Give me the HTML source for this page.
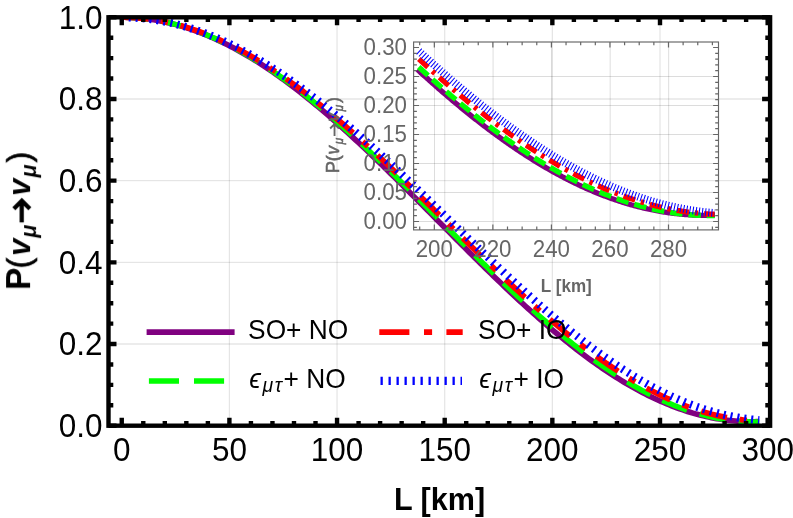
<!DOCTYPE html>
<html><head><meta charset="utf-8"><title>plot</title>
<style>html,body{margin:0;padding:0;background:#fff}svg{display:block}text{font-family:"Liberation Sans",sans-serif}</style></head><body>
<svg width="793" height="518" viewBox="0 0 793 518">
<rect width="793" height="518" fill="#fff"/>
<g opacity="0.9999">
<path d="M229.40 17.3V425.7M337.05 17.3V425.7M444.70 17.3V425.7M552.35 17.3V425.7M660.00 17.3V425.7" stroke="#000" stroke-opacity="0.105" stroke-width="1.3" fill="none"/>
<path d="M108.5 344.02H770.1M108.5 262.34H770.1M108.5 180.66H770.1M108.5 98.98H770.1" stroke="#000" stroke-opacity="0.105" stroke-width="1.3" fill="none"/>
<clipPath id="mc"><rect x="108.5" y="17.3" width="661.6" height="408.4"/></clipPath>
<g clip-path="url(#mc)" fill="none">
<path d="M121.75 17.30L124.41 17.32L127.06 17.37L129.72 17.46L132.38 17.58L135.03 17.74L137.69 17.94L140.34 18.17L143.00 18.43L145.66 18.74L148.31 19.07L150.97 19.44L153.63 19.85L156.28 20.29L158.94 20.77L161.59 21.28L164.25 21.83L166.91 22.41L169.56 23.02L172.22 23.67L174.88 24.36L177.53 25.08L180.19 25.83L182.84 26.62L185.50 27.44L188.16 28.29L190.81 29.18L193.47 30.10L196.13 31.06L198.78 32.04L201.44 33.06L204.09 34.12L206.75 35.20L209.41 36.32L212.06 37.47L214.72 38.65L217.38 39.87L220.03 41.11L222.69 42.39L225.34 43.70L228.00 45.04L230.66 46.41L233.31 47.81L235.97 49.24L238.63 50.70L241.28 52.19L243.94 53.71L246.59 55.25L249.25 56.83L251.91 58.44L254.56 60.07L257.22 61.73L259.88 63.42L262.53 65.14L265.19 66.88L267.84 68.65L270.50 70.45L273.16 72.27L275.81 74.12L278.47 76.00L281.13 77.90L283.78 79.82L286.44 81.77L289.09 83.74L291.75 85.74L294.41 87.76L297.06 89.80L299.72 91.87L302.38 93.96L305.03 96.07L307.69 98.20L310.34 100.36L313.00 102.53L315.66 104.73L318.31 106.94L320.97 109.18L323.63 111.43L326.28 113.71L328.94 116.00L331.59 118.31L334.25 120.64L336.91 122.98L339.56 125.35L342.22 127.73L344.88 130.12L347.53 132.53L350.19 134.96L352.84 137.40L355.50 139.85L358.16 142.32L360.81 144.81L363.47 147.30L366.13 149.81L368.78 152.33L371.44 154.86L374.10 157.41L376.75 159.96L379.41 162.53L382.06 165.10L384.72 167.69L387.38 170.28L390.03 172.89L392.69 175.50L395.35 178.12L398.00 180.74L400.66 183.37L403.31 186.01L405.97 188.66L408.63 191.31L411.28 193.96L413.94 196.62L416.60 199.29L419.25 201.95L421.91 204.62L424.56 207.30L427.22 209.97L429.88 212.65L432.53 215.33L435.19 218.01L437.85 220.68L440.50 223.36L443.16 226.04L445.81 228.72L448.47 231.39L451.13 234.07L453.78 236.74L456.44 239.41L459.10 242.07L461.75 244.73L464.41 247.39L467.06 250.04L469.72 252.68L472.38 255.32L475.03 257.96L477.69 260.58L480.35 263.20L483.00 265.81L485.66 268.42L488.31 271.01L490.97 273.60L493.63 276.17L496.28 278.74L498.94 281.30L501.60 283.84L504.25 286.38L506.91 288.90L509.56 291.41L512.22 293.91L514.88 296.39L517.53 298.86L520.19 301.32L522.85 303.76L525.50 306.19L528.16 308.60L530.81 311.00L533.47 313.38L536.13 315.74L538.78 318.09L541.44 320.42L544.10 322.73L546.75 325.03L549.41 327.30L552.06 329.56L554.72 331.80L557.38 334.02L560.03 336.21L562.69 338.39L565.35 340.55L568.00 342.68L570.66 344.80L573.31 346.89L575.97 348.96L578.63 351.00L581.28 353.03L583.94 355.03L586.60 357.00L589.25 358.96L591.91 360.88L594.56 362.79L597.22 364.66L599.88 366.52L602.53 368.34L605.19 370.14L607.85 371.92L610.50 373.66L613.16 375.38L615.82 377.07L618.47 378.74L621.13 380.38L623.78 381.99L626.44 383.57L629.10 385.12L631.75 386.64L634.41 388.13L637.07 389.60L639.72 391.03L642.38 392.43L645.03 393.81L647.69 395.15L650.35 396.46L653.00 397.74L655.66 398.99L658.32 400.21L660.97 401.39L663.63 402.55L666.28 403.67L668.94 404.76L671.60 405.82L674.25 406.84L676.91 407.83L679.57 408.79L682.22 409.71L684.88 410.61L687.53 411.46L690.19 412.29L692.85 413.08L695.50 413.84L698.16 414.56L700.82 415.25L703.47 415.90L706.13 416.52L708.78 417.11L711.44 417.66L714.10 418.17L716.75 418.65L719.41 419.10L722.07 419.51L724.72 419.88L727.38 420.23L730.03 420.53L732.69 420.80L735.35 421.03L738.00 421.23L740.66 421.40L743.32 421.53L745.97 421.62L748.63 421.68L751.28 421.70L753.94 421.68L756.60 421.63L759.25 421.55" stroke="#800080" stroke-width="5.6"/>
<path d="M121.75 17.30L124.41 17.32L127.06 17.37L129.72 17.46L132.38 17.58L135.03 17.74L137.69 17.93L140.34 18.16L143.00 18.42L145.66 18.71L148.31 19.05L150.97 19.41L153.63 19.81L156.28 20.25L158.94 20.72L161.59 21.22L164.25 21.76L166.91 22.33L169.56 22.94L172.22 23.58L174.88 24.25L177.53 24.96L180.19 25.70L182.84 26.48L185.50 27.29L188.16 28.13L190.81 29.00L193.47 29.91L196.13 30.85L198.78 31.83L201.44 32.83L204.09 33.87L206.75 34.94L209.41 36.04L212.06 37.18L214.72 38.34L217.38 39.54L220.03 40.77L222.69 42.03L225.34 43.31L228.00 44.63L230.66 45.98L233.31 47.36L235.97 48.77L238.63 50.21L241.28 51.68L243.94 53.18L246.59 54.71L249.25 56.26L251.91 57.85L254.56 59.46L257.22 61.10L259.88 62.76L262.53 64.46L265.19 66.18L267.84 67.92L270.50 69.70L273.16 71.49L275.81 73.32L278.47 75.17L281.13 77.04L283.78 78.94L286.44 80.87L289.09 82.81L291.75 84.79L294.41 86.78L297.06 88.80L299.72 90.84L302.38 92.90L305.03 94.98L307.69 97.09L310.34 99.22L313.00 101.37L315.66 103.53L318.31 105.72L320.97 107.93L323.63 110.16L326.28 112.40L328.94 114.67L331.59 116.95L334.25 119.25L336.91 121.57L339.56 123.91L342.22 126.26L344.88 128.62L347.53 131.01L350.19 133.41L352.84 135.82L355.50 138.25L358.16 140.69L360.81 143.15L363.47 145.61L366.13 148.10L368.78 150.59L371.44 153.10L374.10 155.61L376.75 158.14L379.41 160.68L382.06 163.23L384.72 165.79L387.38 168.36L390.03 170.94L392.69 173.52L395.35 176.12L398.00 178.72L400.66 181.33L403.31 183.94L405.97 186.56L408.63 189.19L411.28 191.82L413.94 194.46L416.60 197.10L419.25 199.74L421.91 202.39L424.56 205.04L427.22 207.70L429.88 210.35L432.53 213.01L435.19 215.67L437.85 218.33L440.50 220.99L443.16 223.65L445.81 226.31L448.47 228.97L451.13 231.62L453.78 234.28L456.44 236.93L459.10 239.58L461.75 242.22L464.41 244.86L467.06 247.50L469.72 250.13L472.38 252.76L475.03 255.38L477.69 257.99L480.35 260.60L483.00 263.20L485.66 265.80L488.31 268.38L490.97 270.96L493.63 273.53L496.28 276.09L498.94 278.64L501.60 281.17L504.25 283.70L506.91 286.22L509.56 288.73L512.22 291.22L514.88 293.70L517.53 296.17L520.19 298.62L522.85 301.07L525.50 303.49L528.16 305.91L530.81 308.31L533.47 310.69L536.13 313.06L538.78 315.41L541.44 317.74L544.10 320.06L546.75 322.36L549.41 324.64L552.06 326.91L554.72 329.15L557.38 331.38L560.03 333.59L562.69 335.77L565.35 337.94L568.00 340.09L570.66 342.21L573.31 344.32L575.97 346.40L578.63 348.47L581.28 350.50L583.94 352.52L586.60 354.52L589.25 356.49L591.91 358.43L594.56 360.36L597.22 362.25L599.88 364.13L602.53 365.98L605.19 367.80L607.85 369.60L610.50 371.37L613.16 373.12L615.82 374.84L618.47 376.53L621.13 378.20L623.78 379.83L626.44 381.44L629.10 383.03L631.75 384.58L634.41 386.11L637.07 387.60L639.72 389.07L642.38 390.51L645.03 391.92L647.69 393.30L650.35 394.65L653.00 395.97L655.66 397.25L658.32 398.51L660.97 399.74L663.63 400.94L666.28 402.10L668.94 403.23L671.60 404.33L674.25 405.40L676.91 406.44L679.57 407.45L682.22 408.42L684.88 409.36L687.53 410.26L690.19 411.14L692.85 411.98L695.50 412.79L698.16 413.56L700.82 414.30L703.47 415.01L706.13 415.68L708.78 416.32L711.44 416.93L714.10 417.50L716.75 418.04L719.41 418.54L722.07 419.01L724.72 419.44L727.38 419.84L730.03 420.21L732.69 420.54L735.35 420.83L738.00 421.09L740.66 421.32L743.32 421.51L745.97 421.67L748.63 421.79L751.28 421.87L753.94 421.93L756.60 421.94L759.25 421.92" stroke="#00ff00" stroke-width="5.4" stroke-dasharray="26.5 13.2"/>
<path d="M121.75 17.30L124.41 17.32L127.06 17.37L129.72 17.45L132.38 17.57L135.03 17.72L137.69 17.91L140.34 18.13L143.00 18.39L145.66 18.67L148.31 18.99L150.97 19.35L153.63 19.74L156.28 20.16L158.94 20.62L161.59 21.11L164.25 21.63L166.91 22.19L169.56 22.77L172.22 23.40L174.88 24.05L177.53 24.74L180.19 25.46L182.84 26.21L185.50 27.00L188.16 27.82L190.81 28.67L193.47 29.55L196.13 30.46L198.78 31.41L201.44 32.38L204.09 33.39L206.75 34.43L209.41 35.50L212.06 36.61L214.72 37.74L217.38 38.90L220.03 40.09L222.69 41.32L225.34 42.57L228.00 43.85L230.66 45.17L233.31 46.51L235.97 47.88L238.63 49.28L241.28 50.71L243.94 52.16L246.59 53.65L249.25 55.16L251.91 56.70L254.56 58.27L257.22 59.86L259.88 61.48L262.53 63.13L265.19 64.80L267.84 66.50L270.50 68.23L273.16 69.98L275.81 71.76L278.47 73.56L281.13 75.38L283.78 77.23L286.44 79.11L289.09 81.00L291.75 82.92L294.41 84.87L297.06 86.83L299.72 88.82L302.38 90.83L305.03 92.86L307.69 94.91L310.34 96.99L313.00 99.08L315.66 101.19L318.31 103.33L320.97 105.48L323.63 107.66L326.28 109.85L328.94 112.06L331.59 114.28L334.25 116.53L336.91 118.79L339.56 121.07L342.22 123.37L344.88 125.68L347.53 128.01L350.19 130.35L352.84 132.71L355.50 135.08L358.16 137.47L360.81 139.87L363.47 142.28L366.13 144.71L368.78 147.15L371.44 149.60L374.10 152.07L376.75 154.54L379.41 157.03L382.06 159.52L384.72 162.03L387.38 164.54L390.03 167.07L392.69 169.60L395.35 172.14L398.00 174.69L400.66 177.25L403.31 179.81L405.97 182.39L408.63 184.96L411.28 187.55L413.94 190.13L416.60 192.73L419.25 195.32L421.91 197.93L424.56 200.53L427.22 203.14L429.88 205.75L432.53 208.36L435.19 210.98L437.85 213.59L440.50 216.21L443.16 218.83L445.81 221.45L448.47 224.06L451.13 226.68L453.78 229.30L456.44 231.91L459.10 234.52L461.75 237.13L464.41 239.74L467.06 242.34L469.72 244.94L472.38 247.53L475.03 250.12L477.69 252.71L480.35 255.29L483.00 257.86L485.66 260.42L488.31 262.98L490.97 265.53L493.63 268.08L496.28 270.61L498.94 273.14L501.60 275.66L504.25 278.17L506.91 280.67L509.56 283.16L512.22 285.63L514.88 288.10L517.53 290.55L520.19 293.00L522.85 295.43L525.50 297.85L528.16 300.25L530.81 302.64L533.47 305.02L536.13 307.38L538.78 309.73L541.44 312.06L544.10 314.38L546.75 316.68L549.41 318.96L552.06 321.23L554.72 323.48L557.38 325.71L560.03 327.93L562.69 330.12L565.35 332.30L568.00 334.46L570.66 336.60L573.31 338.72L575.97 340.82L578.63 342.90L581.28 344.96L583.94 346.99L586.60 349.01L589.25 351.00L591.91 352.98L594.56 354.93L597.22 356.85L599.88 358.76L602.53 360.64L605.19 362.49L607.85 364.32L610.50 366.13L613.16 367.91L615.82 369.67L618.47 371.40L621.13 373.11L623.78 374.79L626.44 376.45L629.10 378.08L631.75 379.68L634.41 381.25L637.07 382.80L639.72 384.32L642.38 385.81L645.03 387.28L647.69 388.71L650.35 390.12L653.00 391.50L655.66 392.85L658.32 394.17L660.97 395.46L663.63 396.72L666.28 397.95L668.94 399.16L671.60 400.33L674.25 401.47L676.91 402.58L679.57 403.66L682.22 404.71L684.88 405.72L687.53 406.71L690.19 407.66L692.85 408.59L695.50 409.48L698.16 410.34L700.82 411.16L703.47 411.96L706.13 412.72L708.78 413.45L711.44 414.15L714.10 414.81L716.75 415.44L719.41 416.04L722.07 416.60L724.72 417.14L727.38 417.63L730.03 418.10L732.69 418.53L735.35 418.93L738.00 419.29L740.66 419.63L743.32 419.92L745.97 420.19L748.63 420.42L751.28 420.61L753.94 420.77L756.60 420.90L759.25 421.00" stroke="#ff0000" stroke-width="5.6" stroke-dasharray="26.5 12.95 7.1 12.95"/>
<path d="M121.75 17.30L124.41 17.32L127.06 17.37L129.72 17.45L132.38 17.56L135.03 17.71L137.69 17.89L140.34 18.11L143.00 18.35L145.66 18.63L148.31 18.95L150.97 19.29L153.63 19.67L156.28 20.08L158.94 20.52L161.59 21.00L164.25 21.50L166.91 22.04L169.56 22.62L172.22 23.22L174.88 23.86L177.53 24.52L180.19 25.22L182.84 25.95L185.50 26.72L188.16 27.51L190.81 28.34L193.47 29.19L196.13 30.08L198.78 31.00L201.44 31.95L204.09 32.93L206.75 33.94L209.41 34.98L212.06 36.05L214.72 37.15L217.38 38.28L220.03 39.44L222.69 40.63L225.34 41.85L228.00 43.10L230.66 44.37L233.31 45.68L235.97 47.01L238.63 48.37L241.28 49.76L243.94 51.18L246.59 52.62L249.25 54.09L251.91 55.59L254.56 57.11L257.22 58.66L259.88 60.24L262.53 61.84L265.19 63.47L267.84 65.13L270.50 66.81L273.16 68.51L275.81 70.24L278.47 71.99L281.13 73.77L283.78 75.57L286.44 77.40L289.09 79.24L291.75 81.11L294.41 83.01L297.06 84.92L299.72 86.86L302.38 88.82L305.03 90.80L307.69 92.80L310.34 94.82L313.00 96.86L315.66 98.92L318.31 101.01L320.97 103.11L323.63 105.23L326.28 107.36L328.94 109.52L331.59 111.69L334.25 113.89L336.91 116.09L339.56 118.32L342.22 120.56L344.88 122.82L347.53 125.10L350.19 127.38L352.84 129.69L355.50 132.01L358.16 134.34L360.81 136.69L363.47 139.05L366.13 141.42L368.78 143.81L371.44 146.21L374.10 148.62L376.75 151.04L379.41 153.47L382.06 155.92L384.72 158.37L387.38 160.83L390.03 163.31L392.69 165.79L395.35 168.28L398.00 170.78L400.66 173.29L403.31 175.80L405.97 178.32L408.63 180.85L411.28 183.39L413.94 185.93L416.60 188.47L419.25 191.02L421.91 193.58L424.56 196.14L427.22 198.70L429.88 201.27L432.53 203.84L435.19 206.41L437.85 208.99L440.50 211.56L443.16 214.14L445.81 216.72L448.47 219.29L451.13 221.87L453.78 224.45L456.44 227.03L459.10 229.60L461.75 232.18L464.41 234.75L467.06 237.32L469.72 239.88L472.38 242.44L475.03 245.00L477.69 247.56L480.35 250.11L483.00 252.65L485.66 255.19L488.31 257.72L490.97 260.25L493.63 262.77L496.28 265.28L498.94 267.79L501.60 270.29L504.25 272.78L506.91 275.26L509.56 277.73L512.22 280.19L514.88 282.64L517.53 285.08L520.19 287.51L522.85 289.93L525.50 292.34L528.16 294.74L530.81 297.12L533.47 299.49L536.13 301.85L538.78 304.19L541.44 306.52L544.10 308.84L546.75 311.14L549.41 313.42L552.06 315.69L554.72 317.95L557.38 320.19L560.03 322.41L562.69 324.61L565.35 326.80L568.00 328.97L570.66 331.12L573.31 333.26L575.97 335.37L578.63 337.47L581.28 339.54L583.94 341.60L586.60 343.64L589.25 345.65L591.91 347.65L594.56 349.62L597.22 351.58L599.88 353.51L602.53 355.42L605.19 357.31L607.85 359.17L610.50 361.01L613.16 362.83L615.82 364.63L618.47 366.40L621.13 368.15L623.78 369.87L626.44 371.57L629.10 373.24L631.75 374.89L634.41 376.51L637.07 378.11L639.72 379.68L642.38 381.23L645.03 382.75L647.69 384.24L650.35 385.70L653.00 387.14L655.66 388.55L658.32 389.93L660.97 391.29L663.63 392.61L666.28 393.91L668.94 395.18L671.60 396.42L674.25 397.63L676.91 398.81L679.57 399.97L682.22 401.09L684.88 402.18L687.53 403.25L690.19 404.28L692.85 405.28L695.50 406.25L698.16 407.20L700.82 408.11L703.47 408.99L706.13 409.84L708.78 410.66L711.44 411.44L714.10 412.20L716.75 412.92L719.41 413.61L722.07 414.27L724.72 414.90L727.38 415.50L730.03 416.06L732.69 416.60L735.35 417.10L738.00 417.56L740.66 418.00L743.32 418.40L745.97 418.77L748.63 419.11L751.28 419.41L753.94 419.68L756.60 419.92L759.25 420.13" stroke="#0000ff" stroke-width="8" stroke-dasharray="2.1 4.9"/>
</g>
<path d="M121.75 425.70v-8.00M121.75 17.30v8.00M143.28 425.70v-4.80M143.28 17.30v4.80M164.81 425.70v-4.80M164.81 17.30v4.80M186.34 425.70v-4.80M186.34 17.30v4.80M207.87 425.70v-4.80M207.87 17.30v4.80M229.40 425.70v-8.00M229.40 17.30v8.00M250.93 425.70v-4.80M250.93 17.30v4.80M272.46 425.70v-4.80M272.46 17.30v4.80M293.99 425.70v-4.80M293.99 17.30v4.80M315.52 425.70v-4.80M315.52 17.30v4.80M337.05 425.70v-8.00M337.05 17.30v8.00M358.58 425.70v-4.80M358.58 17.30v4.80M380.11 425.70v-4.80M380.11 17.30v4.80M401.64 425.70v-4.80M401.64 17.30v4.80M423.17 425.70v-4.80M423.17 17.30v4.80M444.70 425.70v-8.00M444.70 17.30v8.00M466.23 425.70v-4.80M466.23 17.30v4.80M487.76 425.70v-4.80M487.76 17.30v4.80M509.29 425.70v-4.80M509.29 17.30v4.80M530.82 425.70v-4.80M530.82 17.30v4.80M552.35 425.70v-8.00M552.35 17.30v8.00M573.88 425.70v-4.80M573.88 17.30v4.80M595.41 425.70v-4.80M595.41 17.30v4.80M616.94 425.70v-4.80M616.94 17.30v4.80M638.47 425.70v-4.80M638.47 17.30v4.80M660.00 425.70v-8.00M660.00 17.30v8.00M681.53 425.70v-4.80M681.53 17.30v4.80M703.06 425.70v-4.80M703.06 17.30v4.80M724.59 425.70v-4.80M724.59 17.30v4.80M746.12 425.70v-4.80M746.12 17.30v4.80M767.65 425.70v-8.00M767.65 17.30v8.00M108.50 425.70h8.00M770.10 425.70h-8.00M108.50 405.28h4.80M770.10 405.28h-4.80M108.50 384.86h4.80M770.10 384.86h-4.80M108.50 364.44h4.80M770.10 364.44h-4.80M108.50 344.02h8.00M770.10 344.02h-8.00M108.50 323.60h4.80M770.10 323.60h-4.80M108.50 303.18h4.80M770.10 303.18h-4.80M108.50 282.76h4.80M770.10 282.76h-4.80M108.50 262.34h8.00M770.10 262.34h-8.00M108.50 241.92h4.80M770.10 241.92h-4.80M108.50 221.50h4.80M770.10 221.50h-4.80M108.50 201.08h4.80M770.10 201.08h-4.80M108.50 180.66h8.00M770.10 180.66h-8.00M108.50 160.24h4.80M770.10 160.24h-4.80M108.50 139.82h4.80M770.10 139.82h-4.80M108.50 119.40h4.80M770.10 119.40h-4.80M108.50 98.98h8.00M770.10 98.98h-8.00M108.50 78.56h4.80M770.10 78.56h-4.80M108.50 58.14h4.80M770.10 58.14h-4.80M108.50 37.72h4.80M770.10 37.72h-4.80M108.50 17.30h8.00M770.10 17.30h-8.00" stroke="#000" stroke-width="4.4" fill="none"/>
<rect x="108.50" y="17.30" width="661.60" height="408.40" fill="none" stroke="#000" stroke-width="4.4"/>
<text transform="translate(121.75,460.70) scale(1,1.040)" font-size="31.50" text-anchor="middle" >0</text>
<text transform="translate(229.40,460.70) scale(1,1.040)" font-size="31.50" text-anchor="middle" >50</text>
<text transform="translate(337.05,460.70) scale(1,1.040)" font-size="31.50" text-anchor="middle" >100</text>
<text transform="translate(444.70,460.70) scale(1,1.040)" font-size="31.50" text-anchor="middle" >150</text>
<text transform="translate(552.35,460.70) scale(1,1.040)" font-size="31.50" text-anchor="middle" >200</text>
<text transform="translate(660.00,460.70) scale(1,1.040)" font-size="31.50" text-anchor="middle" >250</text>
<text transform="translate(767.65,460.70) scale(1,1.040)" font-size="31.50" text-anchor="middle" >300</text>
<text transform="translate(102.60,436.90) scale(1,1.040)" font-size="31.50" text-anchor="end" >0.0</text>
<text transform="translate(102.60,355.22) scale(1,1.040)" font-size="31.50" text-anchor="end" >0.2</text>
<text transform="translate(102.60,273.54) scale(1,1.040)" font-size="31.50" text-anchor="end" >0.4</text>
<text transform="translate(102.60,191.86) scale(1,1.040)" font-size="31.50" text-anchor="end" >0.6</text>
<text transform="translate(102.60,110.18) scale(1,1.040)" font-size="31.50" text-anchor="end" >0.8</text>
<text transform="translate(102.60,28.50) scale(1,1.040)" font-size="31.50" text-anchor="end" >1.0</text>
<text transform="translate(439.50,509.90) scale(1,1.040)" font-size="30.60" text-anchor="middle" font-weight="bold">L [km]</text>
<g transform="translate(30.10,288.20) rotate(-90) scale(1.0000)"><text transform="translate(-1.70,0.00) scale(1,1.040)" font-size="33.50" text-anchor="start" font-weight="bold" fill="#000" >P</text><text transform="translate(19.72,0.00) scale(1,1.040)" font-size="32.00" text-anchor="start" font-weight="normal" fill="#000" stroke="#000" stroke-width="0.70">(</text><text transform="translate(32.14,0.00) scale(1,1.040)" font-size="31.00" text-anchor="start" font-weight="bold" fill="#000"  font-style="italic">v</text><text transform="translate(50.60,6.45) scale(1,1.040)" font-size="21.50" text-anchor="start" font-weight="bold" fill="#000"  font-style="italic">μ</text><text transform="translate(92.34,0.00) scale(1,1.040)" font-size="31.00" text-anchor="start" font-weight="bold" fill="#000"  font-style="italic">v</text><text transform="translate(110.70,6.45) scale(1,1.040)" font-size="21.50" text-anchor="start" font-weight="bold" fill="#000"  font-style="italic">μ</text><text transform="translate(125.71,0.00) scale(1,1.040)" font-size="32.00" text-anchor="start" font-weight="normal" fill="#000" stroke="#000" stroke-width="0.70">)</text><path d="M65.8 -8.3H86.8M79.4 -16.3L87.4 -8.3L79.4 -0.3" fill="none" stroke="#000" stroke-width="4.3" stroke-linejoin="miter" stroke-linecap="butt"/></g>
<path d="M434.53 42.0V229.9M493.07 42.0V229.9M551.61 42.0V229.9M610.15 42.0V229.9M668.69 42.0V229.9" stroke="#000" stroke-opacity="0.19" stroke-width="0.75" fill="none"/>
<path d="M413.6 221.50H718.5M413.6 192.50H718.5M413.6 163.50H718.5M413.6 134.50H718.5M413.6 105.50H718.5M413.6 76.50H718.5" stroke="#000" stroke-opacity="0.19" stroke-width="0.75" fill="none"/>
<clipPath id="ic"><rect x="413.6" y="42.0" width="304.9" height="187.9"/></clipPath>
<g clip-path="url(#ic)" fill="none">
<path d="M417.35 69.52L418.59 70.66L419.83 71.79L421.07 72.92L422.31 74.05L423.55 75.17L424.79 76.29L426.03 77.40L427.27 78.52L428.51 79.63L429.74 80.74L430.98 81.84L432.22 82.94L433.46 84.04L434.70 85.14L435.94 86.23L437.18 87.31L438.42 88.40L439.66 89.48L440.90 90.56L442.14 91.63L443.37 92.71L444.61 93.77L445.85 94.84L447.09 95.90L448.33 96.96L449.57 98.01L450.81 99.06L452.05 100.11L453.29 101.15L454.53 102.20L455.77 103.23L457.00 104.26L458.24 105.29L459.48 106.32L460.72 107.34L461.96 108.36L463.20 109.37L464.44 110.39L465.68 111.39L466.92 112.40L468.16 113.39L469.40 114.39L470.63 115.38L471.87 116.37L473.11 117.35L474.35 118.33L475.59 119.31L476.83 120.28L478.07 121.25L479.31 122.22L480.55 123.18L481.79 124.13L483.03 125.08L484.26 126.03L485.50 126.98L486.74 127.92L487.98 128.85L489.22 129.78L490.46 130.71L491.70 131.63L492.94 132.55L494.18 133.47L495.42 134.38L496.66 135.28L497.89 136.19L499.13 137.08L500.37 137.98L501.61 138.87L502.85 139.75L504.09 140.63L505.33 141.51L506.57 142.38L507.81 143.25L509.05 144.11L510.29 144.97L511.52 145.82L512.76 146.67L514.00 147.52L515.24 148.36L516.48 149.19L517.72 150.02L518.96 150.85L520.20 151.67L521.44 152.49L522.68 153.30L523.92 154.11L525.15 154.91L526.39 155.71L527.63 156.51L528.87 157.29L530.11 158.08L531.35 158.86L532.59 159.63L533.83 160.40L535.07 161.17L536.31 161.93L537.55 162.69L538.78 163.44L540.02 164.18L541.26 164.92L542.50 165.66L543.74 166.39L544.98 167.12L546.22 167.84L547.46 168.56L548.70 169.27L549.94 169.97L551.18 170.67L552.41 171.37L553.65 172.06L554.89 172.75L556.13 173.43L557.37 174.11L558.61 174.78L559.85 175.44L561.09 176.11L562.33 176.76L563.57 177.41L564.81 178.06L566.04 178.70L567.28 179.33L568.52 179.96L569.76 180.59L571.00 181.21L572.24 181.82L573.48 182.43L574.72 183.04L575.96 183.64L577.20 184.23L578.44 184.82L579.68 185.40L580.91 185.98L582.15 186.55L583.39 187.12L584.63 187.68L585.87 188.23L587.11 188.78L588.35 189.33L589.59 189.87L590.83 190.40L592.07 190.93L593.31 191.46L594.54 191.98L595.78 192.49L597.02 193.00L598.26 193.50L599.50 193.99L600.74 194.49L601.98 194.97L603.22 195.45L604.46 195.92L605.70 196.39L606.94 196.86L608.17 197.31L609.41 197.77L610.65 198.21L611.89 198.65L613.13 199.09L614.37 199.52L615.61 199.94L616.85 200.36L618.09 200.78L619.33 201.18L620.57 201.58L621.80 201.98L623.04 202.37L624.28 202.76L625.52 203.13L626.76 203.51L628.00 203.88L629.24 204.24L630.48 204.59L631.72 204.94L632.96 205.29L634.20 205.63L635.43 205.96L636.67 206.29L637.91 206.61L639.15 206.93L640.39 207.24L641.63 207.54L642.87 207.84L644.11 208.13L645.35 208.42L646.59 208.70L647.83 208.98L649.06 209.25L650.30 209.51L651.54 209.77L652.78 210.02L654.02 210.27L655.26 210.51L656.50 210.75L657.74 210.97L658.98 211.20L660.22 211.41L661.46 211.63L662.69 211.83L663.93 212.03L665.17 212.23L666.41 212.41L667.65 212.60L668.89 212.77L670.13 212.94L671.37 213.11L672.61 213.27L673.85 213.42L675.09 213.57L676.32 213.71L677.56 213.84L678.80 213.97L680.04 214.09L681.28 214.21L682.52 214.32L683.76 214.43L685.00 214.53L686.24 214.62L687.48 214.71L688.72 214.79L689.95 214.87L691.19 214.94L692.43 215.00L693.67 215.06L694.91 215.11L696.15 215.16L697.39 215.20L698.63 215.23L699.87 215.26L701.11 215.28L702.35 215.30L703.58 215.31L704.82 215.32L706.06 215.31L707.30 215.31L708.54 215.29L709.78 215.28L711.02 215.25L712.26 215.22L713.50 215.18L714.74 215.14" stroke="#800080" stroke-width="5.3"/>
<path d="M418.82 67.06L420.05 68.18L421.28 69.31L422.52 70.43L423.75 71.55L424.98 72.67L426.21 73.78L427.45 74.89L428.68 76.00L429.91 77.11L431.15 78.21L432.38 79.31L433.61 80.40L434.85 81.49L436.08 82.58L437.31 83.67L438.54 84.75L439.78 85.83L441.01 86.91L442.24 87.99L443.48 89.06L444.71 90.12L445.94 91.19L447.18 92.25L448.41 93.31L449.64 94.36L450.87 95.41L452.11 96.46L453.34 97.50L454.57 98.54L455.81 99.58L457.04 100.62L458.27 101.65L459.51 102.67L460.74 103.70L461.97 104.72L463.20 105.73L464.44 106.75L465.67 107.75L466.90 108.76L468.14 109.76L469.37 110.76L470.60 111.76L471.84 112.75L473.07 113.73L474.30 114.72L475.53 115.70L476.77 116.67L478.00 117.64L479.23 118.61L480.47 119.58L481.70 120.54L482.93 121.49L484.17 122.45L485.40 123.40L486.63 124.34L487.86 125.28L489.10 126.22L490.33 127.15L491.56 128.08L492.80 129.01L494.03 129.93L495.26 130.85L496.50 131.76L497.73 132.67L498.96 133.57L500.19 134.47L501.43 135.37L502.66 136.26L503.89 137.15L505.13 138.03L506.36 138.91L507.59 139.79L508.83 140.66L510.06 141.53L511.29 142.39L512.52 143.25L513.76 144.10L514.99 144.95L516.22 145.79L517.46 146.64L518.69 147.47L519.92 148.30L521.16 149.13L522.39 149.95L523.62 150.77L524.85 151.59L526.09 152.40L527.32 153.20L528.55 154.00L529.79 154.80L531.02 155.59L532.25 156.38L533.49 157.16L534.72 157.94L535.95 158.71L537.18 159.48L538.42 160.24L539.65 161.00L540.88 161.76L542.12 162.51L543.35 163.25L544.58 163.99L545.82 164.73L547.05 165.46L548.28 166.18L549.51 166.90L550.75 167.62L551.98 168.33L553.21 169.04L554.45 169.74L555.68 170.44L556.91 171.13L558.15 171.82L559.38 172.50L560.61 173.18L561.84 173.85L563.08 174.52L564.31 175.18L565.54 175.84L566.78 176.49L568.01 177.14L569.24 177.78L570.48 178.42L571.71 179.05L572.94 179.68L574.17 180.30L575.41 180.92L576.64 181.53L577.87 182.14L579.11 182.74L580.34 183.34L581.57 183.93L582.81 184.51L584.04 185.10L585.27 185.67L586.50 186.24L587.74 186.81L588.97 187.37L590.20 187.93L591.44 188.48L592.67 189.02L593.90 189.56L595.14 190.09L596.37 190.62L597.60 191.15L598.83 191.67L600.07 192.18L601.30 192.69L602.53 193.19L603.77 193.69L605.00 194.18L606.23 194.67L607.47 195.15L608.70 195.62L609.93 196.09L611.16 196.56L612.40 197.02L613.63 197.47L614.86 197.92L616.10 198.37L617.33 198.80L618.56 199.24L619.80 199.66L621.03 200.09L622.26 200.50L623.49 200.91L624.73 201.32L625.96 201.72L627.19 202.11L628.43 202.50L629.66 202.88L630.89 203.26L632.13 203.63L633.36 204.00L634.59 204.36L635.82 204.72L637.06 205.07L638.29 205.41L639.52 205.75L640.76 206.08L641.99 206.41L643.22 206.73L644.46 207.05L645.69 207.36L646.92 207.66L648.15 207.96L649.39 208.26L650.62 208.54L651.85 208.83L653.09 209.10L654.32 209.37L655.55 209.64L656.79 209.90L658.02 210.15L659.25 210.40L660.48 210.65L661.72 210.88L662.95 211.11L664.18 211.34L665.42 211.56L666.65 211.77L667.88 211.98L669.12 212.19L670.35 212.38L671.58 212.57L672.81 212.76L674.05 212.94L675.28 213.11L676.51 213.28L677.75 213.45L678.98 213.60L680.21 213.75L681.45 213.90L682.68 214.04L683.91 214.17L685.14 214.30L686.38 214.42L687.61 214.54L688.84 214.65L690.08 214.76L691.31 214.86L692.54 214.95L693.78 215.04L695.01 215.12L696.24 215.20L697.47 215.27L698.71 215.33L699.94 215.39L701.17 215.45L702.41 215.49L703.64 215.53L704.87 215.57L706.11 215.60L707.34 215.62L708.57 215.64L709.80 215.66L711.04 215.66L712.27 215.66L713.50 215.66L714.74 215.65" stroke="#00ff00" stroke-width="5.3" stroke-dasharray="12.5 5.9"/>
<path d="M418.82 58.99L420.05 60.12L421.28 61.24L422.52 62.36L423.75 63.48L424.98 64.60L426.21 65.71L427.45 66.82L428.68 67.93L429.91 69.04L431.15 70.14L432.38 71.24L433.61 72.34L434.85 73.43L436.08 74.53L437.31 75.62L438.54 76.70L439.78 77.78L441.01 78.86L442.24 79.94L443.48 81.02L444.71 82.09L445.94 83.16L447.18 84.22L448.41 85.28L449.64 86.34L450.87 87.40L452.11 88.45L453.34 89.50L454.57 90.55L455.81 91.59L457.04 92.63L458.27 93.67L459.51 94.70L460.74 95.73L461.97 96.76L463.20 97.78L464.44 98.80L465.67 99.82L466.90 100.83L468.14 101.84L469.37 102.85L470.60 103.85L471.84 104.85L473.07 105.85L474.30 106.84L475.53 107.83L476.77 108.82L478.00 109.80L479.23 110.78L480.47 111.75L481.70 112.73L482.93 113.69L484.17 114.66L485.40 115.62L486.63 116.58L487.86 117.53L489.10 118.48L490.33 119.43L491.56 120.37L492.80 121.31L494.03 122.24L495.26 123.17L496.50 124.10L497.73 125.02L498.96 125.94L500.19 126.86L501.43 127.77L502.66 128.67L503.89 129.58L505.13 130.48L506.36 131.37L507.59 132.26L508.83 133.15L510.06 134.04L511.29 134.92L512.52 135.79L513.76 136.66L514.99 137.53L516.22 138.39L517.46 139.25L518.69 140.11L519.92 140.96L521.16 141.80L522.39 142.65L523.62 143.48L524.85 144.32L526.09 145.15L527.32 145.97L528.55 146.79L529.79 147.61L531.02 148.42L532.25 149.23L533.49 150.04L534.72 150.84L535.95 151.63L537.18 152.42L538.42 153.21L539.65 153.99L540.88 154.77L542.12 155.54L543.35 156.31L544.58 157.07L545.82 157.83L547.05 158.59L548.28 159.34L549.51 160.08L550.75 160.83L551.98 161.56L553.21 162.29L554.45 163.02L555.68 163.75L556.91 164.46L558.15 165.18L559.38 165.89L560.61 166.59L561.84 167.29L563.08 167.99L564.31 168.68L565.54 169.36L566.78 170.04L568.01 170.72L569.24 171.39L570.48 172.06L571.71 172.72L572.94 173.38L574.17 174.03L575.41 174.68L576.64 175.32L577.87 175.96L579.11 176.59L580.34 177.22L581.57 177.84L582.81 178.46L584.04 179.07L585.27 179.68L586.50 180.28L587.74 180.88L588.97 181.48L590.20 182.06L591.44 182.65L592.67 183.23L593.90 183.80L595.14 184.37L596.37 184.93L597.60 185.49L598.83 186.04L600.07 186.59L601.30 187.14L602.53 187.67L603.77 188.21L605.00 188.73L606.23 189.26L607.47 189.77L608.70 190.29L609.93 190.79L611.16 191.30L612.40 191.79L613.63 192.29L614.86 192.77L616.10 193.25L617.33 193.73L618.56 194.20L619.80 194.67L621.03 195.13L622.26 195.58L623.49 196.03L624.73 196.48L625.96 196.92L627.19 197.35L628.43 197.78L629.66 198.21L630.89 198.62L632.13 199.04L633.36 199.45L634.59 199.85L635.82 200.25L637.06 200.64L638.29 201.02L639.52 201.41L640.76 201.78L641.99 202.15L643.22 202.52L644.46 202.88L645.69 203.23L646.92 203.58L648.15 203.92L649.39 204.26L650.62 204.59L651.85 204.92L653.09 205.24L654.32 205.56L655.55 205.87L656.79 206.18L658.02 206.48L659.25 206.77L660.48 207.06L661.72 207.34L662.95 207.62L664.18 207.89L665.42 208.16L666.65 208.42L667.88 208.68L669.12 208.93L670.35 209.17L671.58 209.41L672.81 209.65L674.05 209.88L675.28 210.10L676.51 210.32L677.75 210.53L678.98 210.73L680.21 210.94L681.45 211.13L682.68 211.32L683.91 211.50L685.14 211.68L686.38 211.86L687.61 212.02L688.84 212.19L690.08 212.34L691.31 212.49L692.54 212.64L693.78 212.78L695.01 212.91L696.24 213.04L697.47 213.16L698.71 213.28L699.94 213.39L701.17 213.50L702.41 213.60L703.64 213.69L704.87 213.78L706.11 213.86L707.34 213.94L708.57 214.02L709.80 214.08L711.04 214.14L712.27 214.20L713.50 214.25L714.74 214.29" stroke="#ff0000" stroke-width="5.3" stroke-dasharray="12.3 5.85 3.5 5.9"/>
<path d="M418.82 51.12L420.05 52.25L421.28 53.37L422.52 54.49L423.75 55.61L424.98 56.73L426.21 57.84L427.45 58.96L428.68 60.06L429.91 61.17L431.15 62.28L432.38 63.38L433.61 64.48L434.85 65.57L436.08 66.67L437.31 67.76L438.54 68.85L439.78 69.93L441.01 71.02L442.24 72.10L443.48 73.17L444.71 74.25L445.94 75.32L447.18 76.39L448.41 77.46L449.64 78.52L450.87 79.58L452.11 80.64L453.34 81.69L454.57 82.74L455.81 83.79L457.04 84.84L458.27 85.88L459.51 86.92L460.74 87.96L461.97 88.99L463.20 90.02L464.44 91.05L465.67 92.08L466.90 93.10L468.14 94.12L469.37 95.13L470.60 96.14L471.84 97.15L473.07 98.16L474.30 99.16L475.53 100.16L476.77 101.15L478.00 102.15L479.23 103.14L480.47 104.12L481.70 105.10L482.93 106.08L484.17 107.06L485.40 108.03L486.63 109.00L487.86 109.96L489.10 110.93L490.33 111.88L491.56 112.84L492.80 113.79L494.03 114.74L495.26 115.68L496.50 116.62L497.73 117.56L498.96 118.49L500.19 119.42L501.43 120.35L502.66 121.27L503.89 122.19L505.13 123.10L506.36 124.01L507.59 124.92L508.83 125.83L510.06 126.72L511.29 127.62L512.52 128.51L513.76 129.40L514.99 130.29L516.22 131.17L517.46 132.04L518.69 132.92L519.92 133.79L521.16 134.65L522.39 135.51L523.62 136.37L524.85 137.22L526.09 138.07L527.32 138.92L528.55 139.76L529.79 140.59L531.02 141.43L532.25 142.26L533.49 143.08L534.72 143.90L535.95 144.72L537.18 145.53L538.42 146.34L539.65 147.14L540.88 147.94L542.12 148.74L543.35 149.53L544.58 150.32L545.82 151.10L547.05 151.88L548.28 152.66L549.51 153.43L550.75 154.19L551.98 154.95L553.21 155.71L554.45 156.46L555.68 157.21L556.91 157.96L558.15 158.70L559.38 159.43L560.61 160.16L561.84 160.89L563.08 161.61L564.31 162.33L565.54 163.04L566.78 163.75L568.01 164.45L569.24 165.15L570.48 165.85L571.71 166.54L572.94 167.23L574.17 167.91L575.41 168.58L576.64 169.26L577.87 169.92L579.11 170.59L580.34 171.25L581.57 171.90L582.81 172.55L584.04 173.19L585.27 173.83L586.50 174.47L587.74 175.10L588.97 175.72L590.20 176.35L591.44 176.96L592.67 177.57L593.90 178.18L595.14 178.78L596.37 179.38L597.60 179.97L598.83 180.56L600.07 181.14L601.30 181.72L602.53 182.29L603.77 182.86L605.00 183.42L606.23 183.98L607.47 184.54L608.70 185.08L609.93 185.63L611.16 186.17L612.40 186.70L613.63 187.23L614.86 187.75L616.10 188.27L617.33 188.79L618.56 189.30L619.80 189.80L621.03 190.30L622.26 190.79L623.49 191.28L624.73 191.77L625.96 192.25L627.19 192.72L628.43 193.19L629.66 193.65L630.89 194.11L632.13 194.56L633.36 195.01L634.59 195.46L635.82 195.90L637.06 196.33L638.29 196.76L639.52 197.18L640.76 197.60L641.99 198.01L643.22 198.42L644.46 198.82L645.69 199.22L646.92 199.61L648.15 200.00L649.39 200.38L650.62 200.75L651.85 201.13L653.09 201.49L654.32 201.85L655.55 202.21L656.79 202.56L658.02 202.90L659.25 203.24L660.48 203.58L661.72 203.91L662.95 204.23L664.18 204.55L665.42 204.86L666.65 205.17L667.88 205.48L669.12 205.77L670.35 206.07L671.58 206.35L672.81 206.64L674.05 206.91L675.28 207.18L676.51 207.45L677.75 207.71L678.98 207.96L680.21 208.21L681.45 208.46L682.68 208.70L683.91 208.93L685.14 209.16L686.38 209.38L687.61 209.60L688.84 209.81L690.08 210.02L691.31 210.22L692.54 210.42L693.78 210.61L695.01 210.79L696.24 210.97L697.47 211.15L698.71 211.32L699.94 211.48L701.17 211.64L702.41 211.79L703.64 211.94L704.87 212.08L706.11 212.22L707.34 212.35L708.57 212.47L709.80 212.60L711.04 212.71L712.27 212.82L713.50 212.92L714.74 213.02" stroke="#0000ff" stroke-width="7.8" stroke-dasharray="1.05 2.1"/>
</g>
<path d="M419.69 229.90v-3.30M419.69 42.00v3.30M434.33 229.90v-5.40M434.33 42.00v5.40M448.96 229.90v-3.30M448.96 42.00v3.30M463.60 229.90v-3.30M463.60 42.00v3.30M478.24 229.90v-3.30M478.24 42.00v3.30M492.87 229.90v-5.40M492.87 42.00v5.40M507.50 229.90v-3.30M507.50 42.00v3.30M522.14 229.90v-3.30M522.14 42.00v3.30M536.77 229.90v-3.30M536.77 42.00v3.30M551.41 229.90v-5.40M551.41 42.00v5.40M566.04 229.90v-3.30M566.04 42.00v3.30M580.68 229.90v-3.30M580.68 42.00v3.30M595.32 229.90v-3.30M595.32 42.00v3.30M609.95 229.90v-5.40M609.95 42.00v5.40M624.59 229.90v-3.30M624.59 42.00v3.30M639.22 229.90v-3.30M639.22 42.00v3.30M653.86 229.90v-3.30M653.86 42.00v3.30M668.49 229.90v-5.40M668.49 42.00v5.40M683.12 229.90v-3.30M683.12 42.00v3.30M697.76 229.90v-3.30M697.76 42.00v3.30M712.39 229.90v-3.30M712.39 42.00v3.30M413.60 227.30h3.30M718.50 227.30h-3.30M413.60 221.50h5.40M718.50 221.50h-5.40M413.60 215.70h3.30M718.50 215.70h-3.30M413.60 209.90h3.30M718.50 209.90h-3.30M413.60 204.10h3.30M718.50 204.10h-3.30M413.60 198.30h3.30M718.50 198.30h-3.30M413.60 192.50h5.40M718.50 192.50h-5.40M413.60 186.70h3.30M718.50 186.70h-3.30M413.60 180.90h3.30M718.50 180.90h-3.30M413.60 175.10h3.30M718.50 175.10h-3.30M413.60 169.30h3.30M718.50 169.30h-3.30M413.60 163.50h5.40M718.50 163.50h-5.40M413.60 157.70h3.30M718.50 157.70h-3.30M413.60 151.90h3.30M718.50 151.90h-3.30M413.60 146.10h3.30M718.50 146.10h-3.30M413.60 140.30h3.30M718.50 140.30h-3.30M413.60 134.50h5.40M718.50 134.50h-5.40M413.60 128.70h3.30M718.50 128.70h-3.30M413.60 122.90h3.30M718.50 122.90h-3.30M413.60 117.10h3.30M718.50 117.10h-3.30M413.60 111.30h3.30M718.50 111.30h-3.30M413.60 105.50h5.40M718.50 105.50h-5.40M413.60 99.70h3.30M718.50 99.70h-3.30M413.60 93.90h3.30M718.50 93.90h-3.30M413.60 88.10h3.30M718.50 88.10h-3.30M413.60 82.30h3.30M718.50 82.30h-3.30M413.60 76.50h5.40M718.50 76.50h-5.40M413.60 70.70h3.30M718.50 70.70h-3.30M413.60 64.90h3.30M718.50 64.90h-3.30M413.60 59.10h3.30M718.50 59.10h-3.30M413.60 53.30h3.30M718.50 53.30h-3.30M413.60 47.50h5.40M718.50 47.50h-5.40" stroke="#666666" stroke-width="1.2" fill="none"/>
<rect x="413.60" y="42.00" width="304.90" height="187.90" fill="none" stroke="#666666" stroke-width="1.15"/>
<text transform="translate(434.33,257.20) scale(1,1.040)" font-size="22.30" text-anchor="middle" fill="#666666">200</text>
<text transform="translate(492.87,257.20) scale(1,1.040)" font-size="22.30" text-anchor="middle" fill="#666666">220</text>
<text transform="translate(551.41,257.20) scale(1,1.040)" font-size="22.30" text-anchor="middle" fill="#666666">240</text>
<text transform="translate(609.95,257.20) scale(1,1.040)" font-size="22.30" text-anchor="middle" fill="#666666">260</text>
<text transform="translate(668.49,257.20) scale(1,1.040)" font-size="22.30" text-anchor="middle" fill="#666666">280</text>
<text transform="translate(407.00,228.90) scale(1,1.040)" font-size="22.30" text-anchor="end" fill="#666666">0.00</text>
<text transform="translate(407.00,199.90) scale(1,1.040)" font-size="22.30" text-anchor="end" fill="#666666">0.05</text>
<text transform="translate(407.00,170.90) scale(1,1.040)" font-size="22.30" text-anchor="end" fill="#666666">0.10</text>
<text transform="translate(407.00,141.90) scale(1,1.040)" font-size="22.30" text-anchor="end" fill="#666666">0.15</text>
<text transform="translate(407.00,112.90) scale(1,1.040)" font-size="22.30" text-anchor="end" fill="#666666">0.20</text>
<text transform="translate(407.00,83.90) scale(1,1.040)" font-size="22.30" text-anchor="end" fill="#666666">0.25</text>
<text transform="translate(407.00,54.90) scale(1,1.040)" font-size="22.30" text-anchor="end" fill="#666666">0.30</text>
<text transform="translate(566.30,291.90) scale(1,1.040)" font-size="17.10" text-anchor="middle" font-weight="bold" fill="#666666">L [km]</text>
<g transform="translate(339.10,172.20) rotate(-90) scale(0.5500)"><text transform="translate(-1.70,0.00) scale(1,1.040)" font-size="33.50" text-anchor="start" font-weight="normal" fill="#666666" stroke="#666666" stroke-width="1.0">P</text><text transform="translate(19.72,0.00) scale(1,1.040)" font-size="32.00" text-anchor="start" font-weight="normal" fill="#666666" stroke="#666666" stroke-width="1.00">(</text><text transform="translate(32.14,0.00) scale(1,1.040)" font-size="31.00" text-anchor="start" font-weight="normal" fill="#666666" stroke="#666666" stroke-width="1.0" font-style="italic">v</text><text transform="translate(50.60,6.45) scale(1,1.040)" font-size="21.50" text-anchor="start" font-weight="normal" fill="#666666" stroke="#666666" stroke-width="1.0" font-style="italic">μ</text><text transform="translate(92.34,0.00) scale(1,1.040)" font-size="31.00" text-anchor="start" font-weight="normal" fill="#666666" stroke="#666666" stroke-width="1.0" font-style="italic">v</text><text transform="translate(110.70,6.45) scale(1,1.040)" font-size="21.50" text-anchor="start" font-weight="normal" fill="#666666" stroke="#666666" stroke-width="1.0" font-style="italic">μ</text><text transform="translate(125.71,0.00) scale(1,1.040)" font-size="32.00" text-anchor="start" font-weight="normal" fill="#666666" stroke="#666666" stroke-width="1.00">)</text><path d="M65.8 -8.3H86.8M79.4 -16.3L87.4 -8.3L79.4 -0.3" fill="none" stroke="#666666" stroke-width="3.4" stroke-linejoin="miter" stroke-linecap="butt"/></g>
<g fill="none">
<path d="M146.6 332.2H234.6" stroke="#800080" stroke-width="5.7"/>
<path d="M148.9 381H179M194 381H224.1" stroke="#00ff00" stroke-width="5.4"/>
<path d="M379.3 332.2H409.4M424 332.2H432.1M446.4 332.2H462.7" stroke="#ff0000" stroke-width="5.7"/>
<path d="M380.5 380.9H462" stroke="#0000ff" stroke-width="8.2" stroke-dasharray="2.3 5.7"/>
</g>
<text transform="translate(248.11,339.20) scale(1,1.040)" font-size="26.30" text-anchor="start" >SO+ NO</text>
<text transform="translate(478.11,339.20) scale(1,1.040)" font-size="26.30" text-anchor="start" >SO+ IO</text>
<text transform="translate(479.15,388.40) scale(1,1.040)" font-size="26.30" text-anchor="start" font-style="italic">ϵ</text>
<text transform="translate(492.41,392.40) scale(1,1.040)" font-size="19.50" text-anchor="start" font-style="italic">μ</text>
<text transform="translate(504.79,392.40) scale(1,1.040)" font-size="19.50" text-anchor="start" font-style="italic">τ</text>
<text transform="translate(513.52,388.40) scale(1,1.040)" font-size="26.30" text-anchor="start" >+ IO</text>
<text transform="translate(249.15,388.40) scale(1,1.040)" font-size="26.30" text-anchor="start" font-style="italic">ϵ</text>
<text transform="translate(262.41,392.40) scale(1,1.040)" font-size="19.50" text-anchor="start" font-style="italic">μ</text>
<text transform="translate(274.79,392.40) scale(1,1.040)" font-size="19.50" text-anchor="start" font-style="italic">τ</text>
<text transform="translate(283.52,388.40) scale(1,1.040)" font-size="26.30" text-anchor="start" >+ NO</text>
</g></svg></body></html>
